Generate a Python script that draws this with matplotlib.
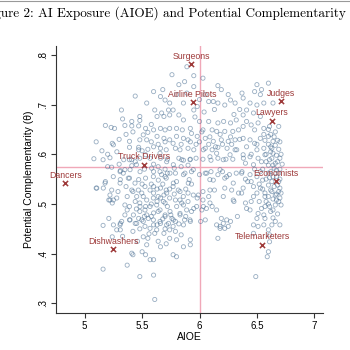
import numpy as np
import matplotlib.pyplot as plt

# ================== DATA ==================
# occupations scatter (AIOE, theta), read off the picture by region
pts_upper = [
    (5.44, 0.717), (5.32, 0.689), (5.54, 0.703), (5.33, 0.671), (5.41, 0.666), (5.48, 0.668),
    (5.48, 0.676), (5.18, 0.658), (5.23, 0.654), (5.26, 0.652), (5.35, 0.658), (5.41, 0.657),
    (5.47, 0.657), (5.53, 0.652), (5.51, 0.639), (5.55, 0.644), (5.39, 0.626), (5.48, 0.629),
    (5.54, 0.629), (5.24, 0.622), (5.25, 0.619), (5.39, 0.614), (5.47, 0.614), (5.47, 0.609),
    (5.50, 0.607), (5.15, 0.607), (5.08, 0.591), (5.16, 0.589), (5.22, 0.593), (5.34, 0.589),
    (5.39, 0.589), (5.44, 0.585), (5.48, 0.592), (5.53, 0.599), (5.235, 0.574), (5.31, 0.567),
    (5.35, 0.569), (5.41, 0.577), (5.45, 0.579), (5.39, 0.552), (5.31, 0.549), (5.18, 0.545),
    (5.47, 0.549), (5.53, 0.552),
    (5.76, 0.760), (5.95, 0.758), (5.89, 0.776), (5.82, 0.740), (5.87, 0.746), (5.95, 0.736),
    (6.03, 0.753), (6.16, 0.738), (5.60, 0.726), (5.66, 0.716), (5.70, 0.709), (5.74, 0.703),
    (5.77, 0.689), (5.73, 0.689), (5.89, 0.723), (5.86, 0.703), (5.98, 0.696), (5.95, 0.689),
    (6.08, 0.706), (6.12, 0.706), (6.16, 0.703), (6.22, 0.699), (6.27, 0.709), (6.31, 0.703),
    (5.61, 0.689), (5.67, 0.683), (5.63, 0.676), (5.69, 0.676), (5.74, 0.679), (5.82, 0.679),
    (5.86, 0.669), (6.00, 0.666), (6.08, 0.666), (6.16, 0.663), (6.21, 0.666), (6.27, 0.663),
    (6.32, 0.669), (5.66, 0.652), (5.60, 0.649), (5.70, 0.649), (5.74, 0.652), (5.80, 0.652),
    (5.85, 0.649), (5.92, 0.652), (5.93, 0.642), (6.03, 0.649), (6.11, 0.649), (6.15, 0.646),
    (6.22, 0.646), (6.29, 0.646), (6.34, 0.649), (5.63, 0.636), (5.69, 0.632), (5.74, 0.629),
    (5.80, 0.636), (5.86, 0.632), (5.90, 0.629), (5.98, 0.636), (6.05, 0.632), (6.12, 0.626),
    (6.19, 0.629), (6.25, 0.626), (6.31, 0.629),
    (6.00, 0.710), (6.05, 0.720), (6.19, 0.730), (6.25, 0.720), (5.80, 0.720), (5.68, 0.730),
    (5.58, 0.660), (5.96, 0.675), (6.04, 0.685), (6.13, 0.690), (6.35, 0.690), (6.30, 0.680),
    (6.02, 0.645), (6.09, 0.635), (6.18, 0.640), (6.27, 0.635), (6.35, 0.630), (6.00, 0.625),
    (6.08, 0.620), (6.14, 0.615), (6.20, 0.620), (6.28, 0.620), (5.10, 0.625), (5.20, 0.600),
    (5.28, 0.605), (5.30, 0.630), (5.36, 0.640), (5.42, 0.645), (5.30, 0.580), (5.20, 0.575),
]

pts_middle = [
    (5.60, 0.615), (5.66, 0.612), (5.71, 0.609), (5.79, 0.612), (5.83, 0.609), (5.90, 0.612),
    (5.95, 0.609), (6.05, 0.612), (6.11, 0.609), (6.16, 0.614), (6.24, 0.612), (6.31, 0.609),
    (5.66, 0.592), (5.72, 0.590), (5.82, 0.592), (5.86, 0.588), (5.92, 0.590), (5.97, 0.592),
    (6.03, 0.590), (6.10, 0.588), (6.16, 0.592), (6.23, 0.590), (6.29, 0.590),
    (5.60, 0.565), (5.67, 0.559), (5.72, 0.562), (5.79, 0.562), (5.86, 0.559), (5.93, 0.565),
    (6.00, 0.559), (6.05, 0.562), (6.10, 0.565), (6.16, 0.559), (6.20, 0.565), (6.26, 0.559),
    (6.32, 0.562), (5.71, 0.552), (5.91, 0.549), (6.09, 0.549), (6.22, 0.552),
    (5.105, 0.532), (5.177, 0.542), (5.235, 0.528), (5.221, 0.508), (5.279, 0.512), (5.308, 0.542),
    (5.336, 0.562), (5.380, 0.552), (5.395, 0.569), (5.438, 0.542), (5.467, 0.528), (5.453, 0.515),
    (5.497, 0.522), (5.525, 0.535), (5.569, 0.528), (5.540, 0.508), (5.598, 0.512), (5.627, 0.498),
    (5.569, 0.495), (5.525, 0.488), (5.482, 0.495), (5.656, 0.488), (5.685, 0.505), (5.714, 0.522),
    (5.700, 0.555), (5.641, 0.548), (5.598, 0.555), (5.772, 0.542), (5.815, 0.528), (5.859, 0.515),
    (5.845, 0.502), (5.801, 0.495), (5.743, 0.485), (5.700, 0.475), (5.656, 0.465), (5.598, 0.468),
    (5.554, 0.471), (5.497, 0.468), (5.453, 0.461), (5.424, 0.478), (5.395, 0.468), (5.322, 0.465),
    (5.279, 0.448), (5.308, 0.458), (5.525, 0.455), (5.569, 0.451), (5.627, 0.448), (5.714, 0.458),
    (5.772, 0.468), (5.830, 0.478), (5.888, 0.488), (5.917, 0.468), (5.975, 0.495), (5.946, 0.518),
    (5.902, 0.542), (5.873, 0.562), (5.946, 0.569), (5.917, 0.589), (5.845, 0.589), (5.772, 0.579),
    (5.714, 0.585), (5.656, 0.602), (5.569, 0.592), (5.482, 0.565), (5.583, 0.572), (5.656, 0.565),
    (5.743, 0.562), (5.409, 0.589), (5.308, 0.565), (5.249, 0.555), (5.162, 0.532),
    (6.033, 0.609), (6.091, 0.595), (6.149, 0.602), (6.207, 0.589), (6.266, 0.599), (6.324, 0.609),
    (6.382, 0.592), (6.062, 0.562), (6.120, 0.548), (6.179, 0.569), (6.237, 0.555), (6.294, 0.542),
    (6.367, 0.562), (6.091, 0.528), (6.207, 0.515), (6.294, 0.508), (6.367, 0.522), (6.033, 0.495),
    (6.091, 0.502), (6.149, 0.488), (6.207, 0.461), (6.179, 0.451), (6.237, 0.468), (6.149, 0.458),
    (5.36, 0.535), (5.42, 0.525), (5.50, 0.540), (5.58, 0.540), (5.63, 0.530), (5.68, 0.540),
    (5.74, 0.530), (5.80, 0.545), (5.88, 0.530), (5.93, 0.540), (5.44, 0.505), (5.51, 0.515),
    (5.58, 0.500), (5.66, 0.512), (5.72, 0.495), (5.78, 0.520), (5.83, 0.508), (5.90, 0.505),
    (5.37, 0.488), (5.45, 0.490), (5.52, 0.475), (5.60, 0.482), (5.68, 0.470), (5.75, 0.478),
    (5.82, 0.460), (5.88, 0.475), (5.35, 0.478), (5.42, 0.445), (5.48, 0.450), (5.56, 0.440),
    (5.63, 0.458), (5.70, 0.450), (5.77, 0.455), (5.33, 0.435), (5.46, 0.425), (5.54, 0.418),
    (5.64, 0.425), (5.71, 0.420), (5.52, 0.570), (5.60, 0.580), (5.64, 0.575), (5.70, 0.570),
    (5.78, 0.572), (5.84, 0.575), (5.90, 0.578), (5.55, 0.610), (5.58, 0.625), (5.64, 0.620),
    (5.70, 0.625), (5.77, 0.622), (5.84, 0.620), (5.92, 0.625), (5.97, 0.620),
]

pts_right = [
    (6.50, 0.740), (6.60, 0.743), (6.54, 0.730), (6.48, 0.726), (6.53, 0.720), (6.37, 0.723),
    (6.38, 0.713), (6.44, 0.703), (6.50, 0.699), (6.56, 0.703), (6.64, 0.703), (6.41, 0.689),
    (6.38, 0.679), (6.47, 0.683), (6.53, 0.676), (6.41, 0.666), (6.45, 0.659), (6.51, 0.663),
    (6.38, 0.656), (6.48, 0.649), (6.56, 0.652), (6.61, 0.656), (6.69, 0.656), (6.64, 0.626),
    (6.63, 0.612), (6.64, 0.602), (6.61, 0.589), (6.66, 0.582), (6.70, 0.592), (6.60, 0.636),
    (6.38, 0.632), (6.44, 0.629), (6.48, 0.622), (6.53, 0.632), (6.41, 0.615), (6.50, 0.609),
    (6.56, 0.612), (6.38, 0.599), (6.44, 0.595), (6.51, 0.592), (6.57, 0.599), (6.40, 0.582),
    (6.47, 0.579), (6.54, 0.585), (6.37, 0.565), (6.44, 0.559), (6.53, 0.565), (6.60, 0.562),
    (6.64, 0.555), (6.69, 0.562),
    (6.62, 0.640), (6.65, 0.635), (6.68, 0.628), (6.60, 0.620), (6.66, 0.618), (6.69, 0.610),
    (6.62, 0.605), (6.67, 0.598), (6.58, 0.600), (6.63, 0.592), (6.68, 0.585), (6.60, 0.578),
    (6.65, 0.572), (6.70, 0.570), (6.62, 0.565), (6.67, 0.555), (6.58, 0.550), (6.63, 0.545),
    (6.69, 0.545), (6.60, 0.538), (6.65, 0.535), (6.70, 0.532), (6.62, 0.528), (6.67, 0.520),
    (6.57, 0.515), (6.64, 0.510), (6.69, 0.505), (6.60, 0.500), (6.66, 0.498), (6.62, 0.485),
    (6.68, 0.480), (6.64, 0.472),
    (6.38, 0.532), (6.47, 0.515), (6.50, 0.522), (6.53, 0.532), (6.57, 0.522), (6.60, 0.515),
    (6.63, 0.525), (6.66, 0.518), (6.69, 0.525), (6.71, 0.522), (6.67, 0.508), (6.70, 0.512),
    (6.71, 0.498), (6.40, 0.502), (6.41, 0.491), (6.44, 0.488), (6.54, 0.491), (6.57, 0.495),
    (6.61, 0.495), (6.64, 0.488), (6.51, 0.481), (6.56, 0.478), (6.50, 0.471), (6.57, 0.471),
    (6.47, 0.458), (6.51, 0.455), (6.56, 0.458), (6.63, 0.458), (6.60, 0.448), (6.66, 0.465),
    (6.70, 0.458), (6.47, 0.441), (6.61, 0.438), (6.61, 0.424), (6.60, 0.404), (6.59, 0.394),
    (6.49, 0.354),
    (6.45, 0.545), (6.50, 0.555), (6.55, 0.548), (6.47, 0.535), (6.52, 0.540), (6.42, 0.545),
    (6.45, 0.505), (6.52, 0.505), (6.58, 0.505), (6.55, 0.530), (6.60, 0.650), (6.66, 0.645),
    (6.57, 0.628), (6.62, 0.615), (6.58, 0.585), (6.64, 0.578), (6.55, 0.570), (6.61, 0.553),
    (6.67, 0.568), (6.56, 0.640), (6.50, 0.620), (6.45, 0.600), (6.48, 0.570), (6.40, 0.550),
    (6.70, 0.550), (6.68, 0.538), (6.71, 0.600), (6.70, 0.625), (6.72, 0.580),
    (6.27, 0.465), (6.33, 0.475),
]

pts_lower = [
    (5.10, 0.532), (5.22, 0.518), (5.25, 0.508), (5.29, 0.525), (5.37, 0.515), (5.41, 0.528),
    (5.21, 0.508), (5.24, 0.502), (5.35, 0.498), (5.39, 0.495), (5.48, 0.502), (5.53, 0.495),
    (5.48, 0.485), (5.54, 0.478), (5.47, 0.471), (5.51, 0.465), (5.21, 0.471), (5.16, 0.457),
    (5.25, 0.458), (5.31, 0.461), (5.31, 0.448), (5.39, 0.468), (5.44, 0.461), (5.24, 0.434),
    (5.51, 0.434), (5.55, 0.431), (5.41, 0.401), (5.42, 0.398), (5.50, 0.404), (5.53, 0.398),
    (5.37, 0.377), (5.16, 0.369), (5.48, 0.354),
    (5.60, 0.535), (5.66, 0.532), (5.71, 0.528), (5.77, 0.535), (5.83, 0.525), (5.90, 0.522),
    (5.99, 0.518), (6.03, 0.525), (6.08, 0.515), (6.13, 0.528), (6.22, 0.532), (6.28, 0.528),
    (6.34, 0.522), (6.30, 0.505), (5.60, 0.522), (5.64, 0.515), (5.69, 0.518), (5.63, 0.505),
    (5.70, 0.502), (5.74, 0.512), (5.79, 0.508), (5.86, 0.498), (5.95, 0.491), (5.98, 0.512),
    (6.03, 0.508), (6.02, 0.488), (6.06, 0.491), (6.11, 0.495), (5.58, 0.475), (5.64, 0.485),
    (5.70, 0.478), (5.76, 0.471), (5.83, 0.481), (5.87, 0.468), (5.93, 0.485), (5.60, 0.458),
    (5.66, 0.461), (5.73, 0.461), (5.79, 0.465), (5.86, 0.458), (5.92, 0.465), (5.69, 0.441),
    (5.74, 0.448), (5.79, 0.445), (5.84, 0.438), (5.61, 0.441), (6.05, 0.468), (6.01, 0.465),
    (6.19, 0.471), (6.18, 0.455), (6.22, 0.451), (6.25, 0.455), (6.16, 0.431), (5.66, 0.414),
    (5.74, 0.431), (5.80, 0.428), (5.86, 0.414), (5.92, 0.418), (5.92, 0.428), (5.77, 0.398),
    (5.80, 0.394), (5.57, 0.388), (5.60, 0.388), (5.60, 0.357), (5.61, 0.308),
]

# highlighted occupations
names = ["Surgeons", "Airline Pilots", "Judges", "Lawyers", "Truck Drivers",
         "Dancers", "Economists", "Dishwashers", "Telemarketers"]
aioe = [5.926, 5.94, 6.707, 6.63, 5.516, 4.83, 6.667, 5.25, 6.546]
theta = [0.781, 0.705, 0.707, 0.667, 0.579, 0.542, 0.546, 0.409, 0.418]

mean_aioe = 6.0
mean_theta = 0.5753

pts = np.array(pts_upper + pts_middle + pts_right + pts_lower)

# ================== PLOT ==================
plt.rcParams['font.family'] = ['Liberation Sans', 'DejaVu Sans']
fig = plt.figure(figsize=(3.5, 3.5), dpi=100)
ax = fig.add_axes([0.16, 0.106, 0.763, 0.763])

ax.scatter(pts[:, 0], pts[:, 1], s=9, facecolors='none', edgecolors='#456b90',
           linewidths=0.6, alpha=0.55, zorder=2)

red = '#9e3a3a'
ax.scatter(aioe, theta, marker='x', s=14, color=red, linewidths=1.1, zorder=4)
for n, xv, yv in zip(names, aioe, theta):
    ax.annotate(n, (xv, yv), xytext=(0, 2.5), textcoords='offset points',
                ha='center', va='bottom', color=red, fontsize=6.3,
                annotation_clip=False, zorder=5)

ax.axvline(mean_aioe, color='#f0a8b8', lw=1.0, zorder=1)
ax.axhline(mean_theta, color='#f0a8b8', lw=1.0, zorder=1)

ax.set_xlim(4.75, 7.076)
ax.set_ylim(0.281, 0.818)
ax.set_xticks([5, 5.5, 6, 6.5, 7])
ax.set_xticklabels(["5", "5.5", "6", "6.5", "7"])
ax.set_yticks([0.3, 0.4, 0.5, 0.6, 0.7, 0.8])
ax.set_yticklabels([".3", ".4", ".5", ".6", ".7", ".8"], rotation=90, va='center')
ax.tick_params(labelsize=7, length=3.5, width=0.8, color='#333333', pad=2)

for s in ['top', 'right']:
    ax.spines[s].set_visible(False)
for s in ['left', 'bottom']:
    ax.spines[s].set_color('#333333')
    ax.spines[s].set_linewidth(0.8)

ax.set_xlabel("AIOE", fontsize=7.5, labelpad=1)
ax.set_ylabel("Potential Complementarity (θ)", fontsize=7.5, labelpad=3)

# title is cropped at both sides in the source page
fig.text(0.5, 0.962, "Figure 2: AI Exposure (AIOE) and Potential Complementarity (θ)",
         ha='center', va='center', fontsize=9.5, family=['cmr10', 'DejaVu Serif'])
fig.add_artist(plt.Line2D([0, 1], [0.998, 0.998], color='#999999', lw=0.8))

fig.savefig("out.png", dpi=100)
